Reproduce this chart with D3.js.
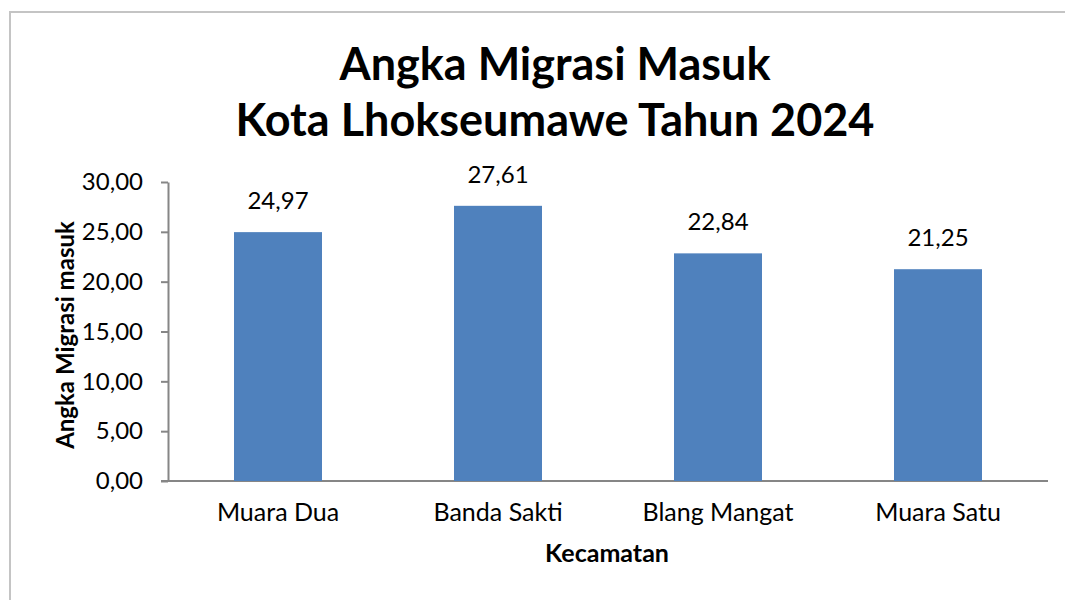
<!DOCTYPE html>
<html>
<head>
<meta charset="utf-8">
<script src="https://cdn.jsdelivr.net/npm/d3@7"></script>
<style>
  body { margin: 0; background: #fff; }
  svg { display: block; font-family: Lato, "Open Sans", sans-serif; }
</style>
</head>
<body>
<svg id="chart" width="1065" height="600"></svg>
<script>
// data
var categories = ["Muara Dua", "Banda Sakti", "Blang Mangat", "Muara Satu"];
var values = [24.97, 27.61, 22.84, 21.25];
var yTicks = [0, 5, 10, 15, 20, 25, 30];
var titleLines = ["Angka Migrasi Masuk", "Kota Lhokseumawe Tahun 2024"];

var svg = d3.select("#chart");
var plot = { left: 168, right: 1048, top: 182, bottom: 481 };

// comma decimal, like the source
var locale = d3.formatLocale({ decimal: ",", thousands: ".", grouping: [3], currency: ["", ""] });
var fmt = locale.format(".2f");

// outer border (only top and left show inside the frame)
svg.append("rect")
    .attr("x", 10).attr("y", 12)
    .attr("width", 1100).attr("height", 650)
    .attr("fill", "none")
    .attr("stroke", "#c4c4c4")
    .attr("stroke-width", 2);

var x = d3.scaleBand()
    .domain(categories)
    .range([plot.left, plot.right])
    .paddingInner(0.6)
    .paddingOuter(0.3);

var y = d3.scaleLinear()
    .domain([0, 30])
    .range([plot.bottom, plot.top]);

// title
svg.append("g").selectAll("text")
    .data(titleLines)
    .enter().append("text")
    .attr("x", 555)
    .attr("y", function (d, i) { return 80 + i * 56; })
    .attr("text-anchor", "middle")
    .attr("font-weight", "bold")
    .attr("font-size", 45)
    .attr("fill", "#000")
    .text(function (d) { return d; });

// y axis
var yAxis = svg.append("g")
    .attr("transform", "translate(" + plot.left + ",0)")
    .call(d3.axisLeft(y).tickValues(yTicks).tickFormat(fmt).tickSize(7).tickPadding(18).tickSizeOuter(0));
yAxis.select(".domain").attr("stroke", "#868686").attr("stroke-width", 2);
yAxis.selectAll(".tick line").attr("stroke", "#868686").attr("stroke-width", 2);
yAxis.selectAll(".tick text").attr("font-size", 24).attr("fill", "#000").attr("font-family", "Lato, sans-serif");

// x axis: just a line, no ticks
var xAxis = svg.append("g")
    .attr("transform", "translate(0," + plot.bottom + ")")
    .call(d3.axisBottom(x).tickSize(0).tickPadding(22));
xAxis.select(".domain")
    .attr("d", "M" + (plot.left - 7) + ",0H" + plot.right)
    .attr("stroke", "#868686").attr("stroke-width", 2);
xAxis.selectAll(".tick text").attr("font-size", 25).attr("fill", "#000").attr("font-family", "Lato, sans-serif");

// bars
svg.append("g").selectAll("rect")
    .data(values)
    .enter().append("rect")
    .attr("x", function (d, i) { return x(categories[i]); })
    .attr("y", function (d) { return y(d); })
    .attr("width", x.bandwidth())
    .attr("height", function (d) { return y(0) - y(d); })
    .attr("fill", "#4f81bd");

// value labels
svg.append("g").selectAll("text")
    .data(values)
    .enter().append("text")
    .attr("x", function (d, i) { return x(categories[i]) + x.bandwidth() / 2; })
    .attr("y", function (d) { return y(d) - 23; })
    .attr("text-anchor", "middle")
    .attr("font-size", 24)
    .text(function (d) { return fmt(d); });

// axis titles
svg.append("text")
    .attr("transform", "translate(74,335) rotate(-90)")
    .attr("text-anchor", "middle")
    .attr("font-weight", "bold")
    .attr("font-size", 24)
    .text("Angka Migrasi masuk");

svg.append("text")
    .attr("x", 607)
    .attr("y", 562)
    .attr("text-anchor", "middle")
    .attr("font-weight", "bold")
    .attr("font-size", 25)
    .text("Kecamatan");
</script>
</body>
</html>
